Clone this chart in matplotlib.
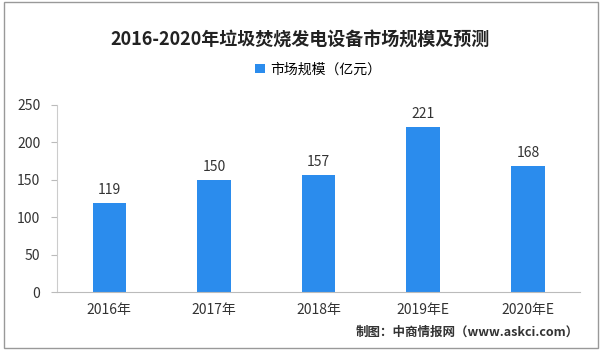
import matplotlib.pyplot as plt
from matplotlib.patches import Rectangle

plt.rcParams['font.family'] = ['Noto Sans CJK SC', 'DejaVu Sans']

years = ['2016年', '2017年', '2018年', '2019年E', '2020年E']
values = [119, 150, 157, 221, 168]
yticks = [0, 50, 100, 150, 200, 250]

fig = plt.figure(figsize=(6, 3.57), dpi=100)
ax = fig.add_axes([0.095, 0.182, 0.872, 0.524])

bars = ax.bar(range(len(years)), values, width=0.32, color='#2b8ced',
              label='市场规模（亿元）')
for b, v in zip(bars, values):
    ax.text(b.get_x() + b.get_width() / 2, v + 8, str(v),
            ha='center', va='bottom', fontsize=10, color='#333333')

ax.set_xlim(-0.5, len(years) - 0.5)
ax.set_ylim(0, 250)
ax.set_yticks(yticks)
ax.set_xticks(range(len(years)))
ax.set_xticklabels(years)
ax.tick_params(axis='y', length=4, color='#bbbbbb', labelsize=10, labelcolor='#333333', pad=8)
ax.tick_params(axis='x', length=0, labelsize=10, labelcolor='#333333', pad=8)

for s in ['top', 'right']:
    ax.spines[s].set_visible(False)
ax.spines['left'].set_color('#cccccc')
ax.spines['bottom'].set_color('#bbbbbb')

fig.text(0.5, 0.888, '2016-2020年垃圾焚烧发电设备市场规模及预测',
         ha='center', va='center', fontsize=13, fontweight='bold', color='#222222')
ax.legend(loc='center', bbox_to_anchor=(0.5, 1.19), frameon=False,
          fontsize=10, handlelength=0.7, handleheight=0.7, handletextpad=0.4)

fig.text(0.965, 0.068, '制图：中商情报网（www.askci.com）', ha='right', va='center',
         fontsize=9, fontweight='bold', color='#333333')

fig.patches.append(Rectangle((0.006, 0.025), 0.99, 0.97, transform=fig.transFigure,
                             fill=False, edgecolor='#999999', linewidth=1))

fig.savefig('out.png', dpi=100)
